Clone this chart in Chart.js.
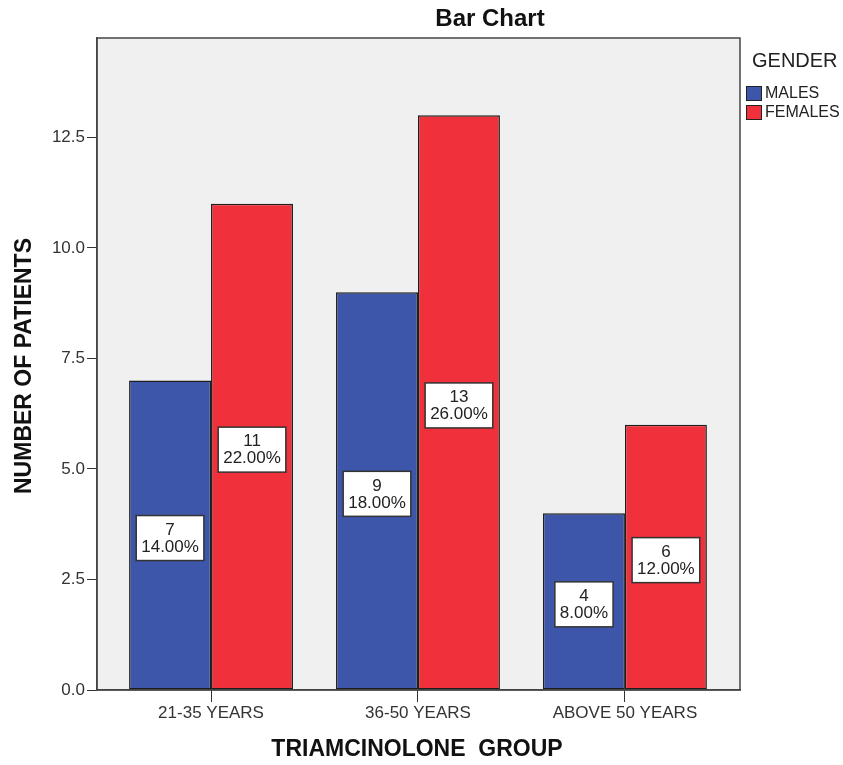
<!DOCTYPE html>
<html>
<head>
<meta charset="utf-8">
<title>Bar Chart</title>
<script src="https://cdn.jsdelivr.net/npm/chart.js@4.4.1/dist/chart.umd.min.js"></script>
<style>
  html, body { margin: 0; padding: 0; background: #fff; }
  #wrap { width: 843px; height: 765px; }
</style>
</head>
<body>
<div id="wrap"><canvas id="chart" width="843" height="765"></canvas></div>
<script>
// data
const categories = ['21-35 YEARS', '36-50 YEARS', 'ABOVE 50 YEARS'];
const males = [7, 9, 4];
const females = [11, 13, 6];
const yTicks = [0, 2.5, 5, 7.5, 10, 12.5];

const total = males.concat(females).reduce((a, b) => a + b, 0);
const FONT = '"Liberation Sans", Arial, sans-serif';
const BLUE = '#3e56aa';
const RED = '#f0303a';

// plot background + frame
const frame = {
  id: 'frame',
  beforeDraw(chart) {
    const { ctx, chartArea: a } = chart;
    ctx.save();
    ctx.fillStyle = '#f0f0f0';
    ctx.fillRect(a.left, a.top, a.right - a.left, a.bottom - a.top);
    ctx.restore();
  },
  afterDraw(chart) {
    const { ctx, chartArea: a } = chart;
    ctx.save();
    ctx.strokeStyle = '#444';
    ctx.lineWidth = 1.5;
    ctx.strokeRect(a.left, a.top, a.right - a.left, a.bottom - a.top);

    // title
    ctx.fillStyle = '#111';
    ctx.textAlign = 'center';
    ctx.textBaseline = 'middle';
    ctx.font = 'bold 24px ' + FONT;
    ctx.fillText('Bar Chart', 490, 19);

    // axis titles
    ctx.font = 'bold 23px ' + FONT;
    ctx.fillText('TRIAMCINOLONE  GROUP', 417, 750);
    ctx.save();
    ctx.translate(25, 366);
    ctx.rotate(-Math.PI / 2);
    ctx.fillText('NUMBER OF PATIENTS', 0, 0);
    ctx.restore();

    // legend
    ctx.textAlign = 'left';
    ctx.fillStyle = '#222';
    ctx.font = '20px ' + FONT;
    ctx.fillText('GENDER', 752, 61);
    ctx.font = '16px ' + FONT;
    chart.data.datasets.forEach((ds, i) => {
      const y = 86 + i * 19;
      ctx.fillStyle = ds.backgroundColor;
      ctx.fillRect(746, y, 16, 15);
      ctx.strokeStyle = '#222';
      ctx.lineWidth = 1;
      ctx.strokeRect(746.5, y + 0.5, 15, 14);
      ctx.fillStyle = '#222';
      ctx.fillText(ds.label, 765, y + 8);
    });
    ctx.restore();
  }
};

// count / percent boxes in the middle of each bar
const boxLabels = {
  id: 'boxLabels',
  afterDatasetsDraw(chart) {
    const { ctx } = chart;
    ctx.save();
    ctx.font = '17px ' + FONT;
    ctx.textAlign = 'center';
    ctx.textBaseline = 'middle';
    chart.data.datasets.forEach((ds, di) => {
      chart.getDatasetMeta(di).data.forEach((bar, i) => {
        const v = ds.data[i].y;
        const l1 = String(v);
        const l2 = (v / total * 100).toFixed(2) + '%';
        const w = Math.max(ctx.measureText(l1).width, ctx.measureText(l2).width) + 10;
        const h = 45;
        const cx = bar.x;
        const cy = (bar.y + bar.base) / 2 + 3;
        ctx.fillStyle = '#fff';
        ctx.fillRect(cx - w / 2, cy - h / 2, w, h);
        ctx.strokeStyle = '#333';
        ctx.lineWidth = 1.5;
        ctx.strokeRect(cx - w / 2, cy - h / 2, w, h);
        ctx.fillStyle = '#222';
        ctx.fillText(l1, cx, cy - 8);
        ctx.fillText(l2, cx, cy + 9);
      });
    });
    ctx.restore();
  }
};

new Chart(document.getElementById('chart'), {
  type: 'bar',
  data: {
    datasets: [
      {
        label: 'MALES',
        data: males.map((v, i) => ({ x: i, y: v })),
        backgroundColor: BLUE,
        borderColor: '#1e1e1e',
        borderWidth: 1.5,
        borderSkipped: false
      },
      {
        label: 'FEMALES',
        data: females.map((v, i) => ({ x: i, y: v })),
        backgroundColor: RED,
        borderColor: '#1e1e1e',
        borderWidth: 1.5,
        borderSkipped: false
      }
    ]
  },
  options: {
    responsive: false,
    animation: false,
    categoryPercentage: 0.792,
    barPercentage: 1,
    layout: { padding: { top: 38, right: 103, left: 0, bottom: 0 } },
    plugins: {
      legend: { display: false },
      title: { display: false },
      tooltip: { enabled: false }
    },
    scales: {
      x: {
        type: 'linear',
        offset: false,
        min: -0.551,
        max: 2.556,
        afterBuildTicks: s => { s.ticks = categories.map((c, i) => ({ value: i })); },
        afterFit: s => { s.height = 75; },
        ticks: {
          callback: v => categories[v],
          color: '#333',
          font: { family: FONT, size: 17 },
          padding: 1,
          maxRotation: 0,
          autoSkip: false
        },
        grid: { offset: false, drawOnChartArea: false, drawTicks: true, tickLength: 12, color: '#333' },
        border: { display: true, color: '#444', width: 1.5 }
      },
      y: {
        min: 0,
        max: 14.75,
        afterBuildTicks: s => { s.ticks = yTicks.map(v => ({ value: v })); },
        afterFit: s => { s.width = 97; },
        ticks: {
          callback: v => Number(v).toFixed(1),
          color: '#333',
          font: { family: FONT, size: 17 },
          padding: 2
        },
        grid: { drawOnChartArea: false, drawTicks: true, tickLength: 10, color: '#333' },
        border: { display: true, color: '#444', width: 1.5 }
      }
    }
  },
  plugins: [frame, boxLabels]
});
</script>
</body>
</html>
